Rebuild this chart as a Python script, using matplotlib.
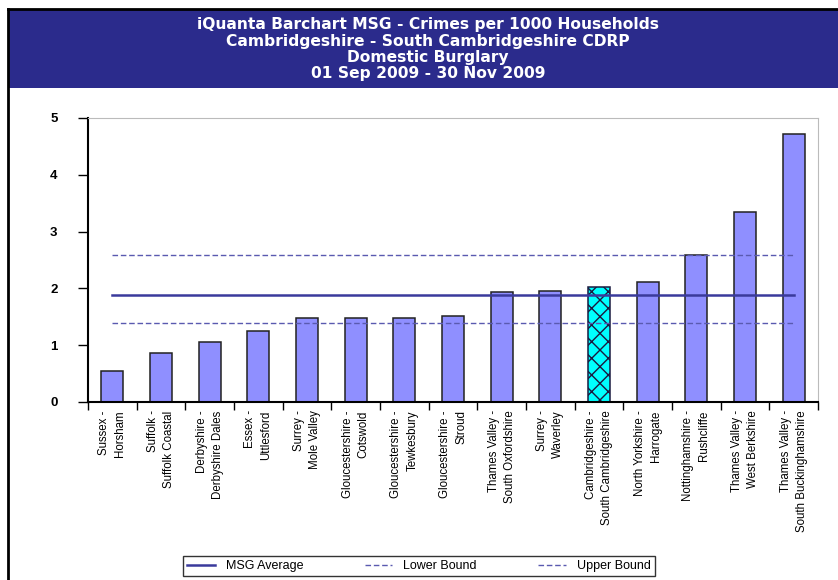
import numpy as np
import matplotlib.pyplot as plt
from matplotlib.patches import Rectangle
from matplotlib.lines import Line2D

plt.rcParams['font.family'] = ['Liberation Sans', 'DejaVu Sans']

labels = ["Sussex -\nHorsham", "Suffolk -\nSuffolk Coastal", "Derbyshire -\nDerbyshire Dales",
          "Essex -\nUttlesford", "Surrey -\nMole Valley", "Gloucestershire -\nCotswold",
          "Gloucestershire -\nTewkesbury", "Gloucestershire -\nStroud",
          "Thames Valley -\nSouth Oxfordshire", "Surrey -\nWaverley",
          "Cambridgeshire -\nSouth Cambridgeshire", "North Yorkshire -\nHarrogate",
          "Nottinghamshire -\nRushcliffe", "Thames Valley -\nWest Berkshire",
          "Thames Valley -\nSouth Buckinghamshire"]
values = [0.55, 0.86, 1.06, 1.25, 1.48, 1.48, 1.48, 1.52, 1.93, 1.95, 2.02, 2.12, 2.58, 3.35, 4.71]
highlight = 10
msg_average = 1.89
lower_bound = 1.39
upper_bound = 2.58

title_lines = ["iQuanta Barchart MSG - Crimes per 1000 Households",
               "Cambridgeshire - South Cambridgeshire CDRP",
               "Domestic Burglary",
               "01 Sep 2009 - 30 Nov 2009"]

W, H = 838, 580
fig = plt.figure(figsize=(W / 100, H / 100), dpi=100)

# title band and frame
fig.patches.append(Rectangle((8 / W, 1 - 88 / H), 1, 78 / H, transform=fig.transFigure,
                             facecolor='#2b2b8c', edgecolor='none', zorder=0))
fig.add_artist(Line2D([8 / W, 8 / W], [0, 1 - 9 / H], transform=fig.transFigure,
                      color='black', lw=2))
fig.add_artist(Line2D([8 / W, 1], [1 - 9 / H, 1 - 9 / H], transform=fig.transFigure,
                      color='black', lw=2))
for i, t in enumerate(title_lines):
    fig.text(428 / W, 1 - (25 + i * 16.3) / H, t, color='white', fontsize=11.2,
             fontweight='bold', ha='center', va='center', family='DejaVu Sans')

ax = fig.add_axes([88 / W, 1 - 402 / H, 730 / W, 284 / H])
x = np.arange(len(values))
colors = ['#8f8fff'] * len(values)
colors[highlight] = '#00ffff'
bars = ax.bar(x, values, width=0.45, color=colors, edgecolor='#222222', linewidth=1.1, zorder=2)
bars[highlight].set_hatch('xx')
bars[highlight].set_edgecolor('#1a1a40')

ax.plot(x, [msg_average] * len(x), color='#3a3a9c', lw=1.8, zorder=3, label='MSG Average')
ax.plot(x, [lower_bound] * len(x), color='#5a5ab0', lw=1.0, ls=(0, (4, 2)), zorder=3,
        label='Lower Bound')
ax.plot(x, [upper_bound] * len(x), color='#5a5ab0', lw=1.0, ls=(0, (4, 2)), zorder=3,
        label='Upper Bound')

ax.set_xlim(-0.5, len(values) - 0.5)
ax.set_ylim(0, 5)
ax.set_yticks(range(6))
ax.tick_params(axis='y', direction='out', length=7, width=1, labelsize=9.5, pad=15)
for lab in ax.get_yticklabels():
    lab.set_fontweight('bold')
ax.set_xticks(np.arange(len(values) + 1) - 0.5)
ax.set_xticklabels([])
ax.tick_params(axis='x', direction='out', length=6, width=1)
ax.set_xticks(x, minor=True)
ax.set_xticklabels(labels, minor=True, rotation=90, ha='center', va='top',
                   multialignment='right', fontsize=8.3, linespacing=1.45,
                   family=['Liberation Sans Narrow', 'Liberation Sans'])
ax.tick_params(axis='x', which='minor', length=0, pad=6)
for s in ['left', 'bottom']:
    ax.spines[s].set_linewidth(1.5)
for s in ['top', 'right']:
    ax.spines[s].set_color('#bbbbbb')

handles = ax.get_legend_handles_labels()
fig.legend(*handles, loc='center', bbox_to_anchor=(419 / W, 1 - 566 / H), ncol=3,
           frameon=True, fancybox=False, edgecolor='black', fontsize=9,
           handlelength=2.2, handletextpad=0.9, columnspacing=4.9, borderpad=0.3)

fig.savefig('out.png', dpi=100)
